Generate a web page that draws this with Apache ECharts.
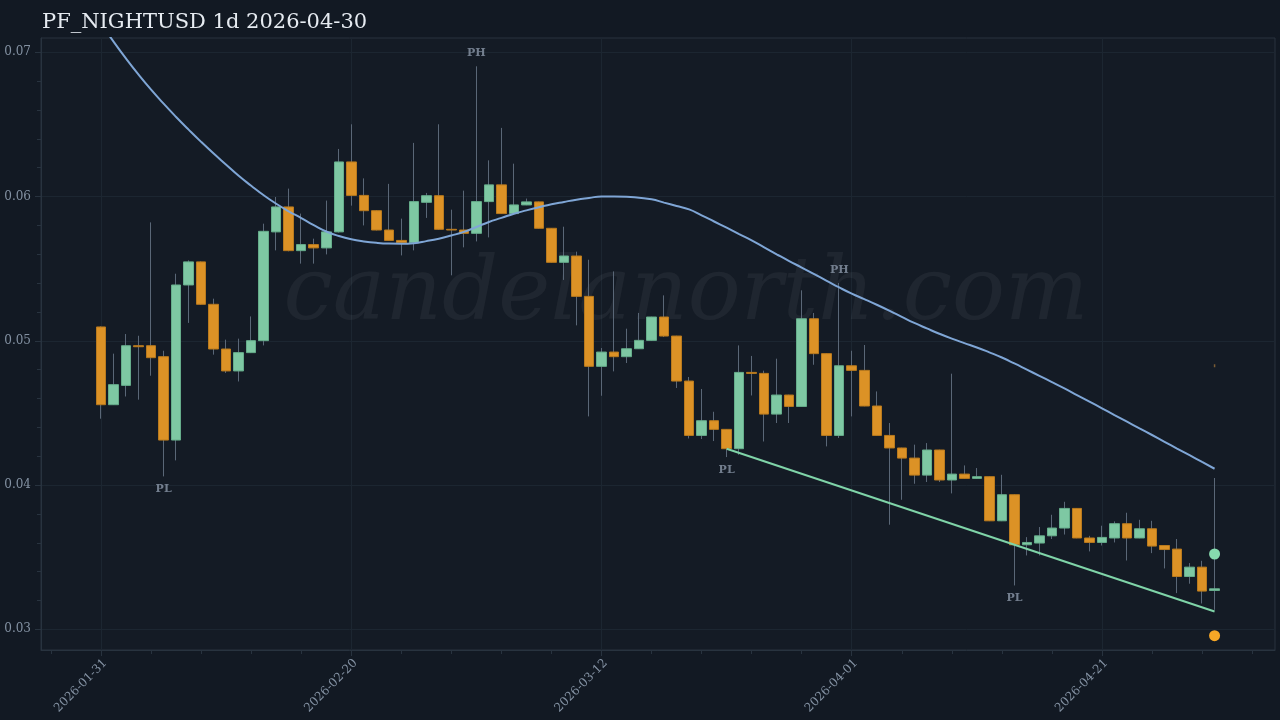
<!DOCTYPE html>
<html>
<head>
<meta charset="utf-8">
<script src="https://cdn.jsdelivr.net/npm/echarts@6/dist/echarts.min.js"></script>
<style>
html,body{margin:0;padding:0;background:#121923;}
#c{width:1280px;height:720px;}
</style>
</head>
<body>
<div id="c"></div>
<script>
// ---------------- data ----------------
const titleText = 'PF_NIGHTUSD 1d 2026-04-30';
const startDate = '2026-01-31';   // day 0
const open = [
0.05096,0.04557,0.04691,0.04966,0.04966,0.04890,0.04312,0.05387,0.05547,0.05253,
0.04943,0.04791,0.04918,0.05001,0.05755,0.05928,0.05625,0.05667,0.05644,0.05755,
0.06240,0.06008,0.05902,0.05768,0.05696,0.05680,0.05960,0.06006,0.05773,0.05768,
0.05745,0.05965,0.06081,0.05882,0.05942,0.05963,0.05780,0.05544,0.05588,0.05308,
0.04823,0.04922,0.04890,0.04945,0.05003,0.05165,0.05033,0.04721,0.04344,0.04446,
0.04386,0.04252,0.04781,0.04774,0.04492,0.04624,0.04545,0.05153,0.04911,0.04344,
0.04827,0.04795,0.04548,0.04344,0.04257,0.04187,0.04069,0.04243,0.04035,0.04076,
0.04046,0.04058,0.03752,0.03933,0.03586,0.03598,0.03648,0.03702,0.03838,0.03633,
0.03602,0.03633,0.03732,0.03633,0.03697,0.03581,0.03556,0.03366,0.03431,0.03269
];
const close = [
0.04557,0.04696,0.04966,0.04959,0.04883,0.04312,0.05387,0.05547,0.05253,0.04943,
0.04791,0.04918,0.05001,0.05759,0.05928,0.05625,0.05667,0.05644,0.05755,0.06240,
0.06008,0.05902,0.05768,0.05696,0.05680,0.05965,0.06006,0.05773,0.05768,0.05745,
0.05965,0.06081,0.05882,0.05942,0.05963,0.05780,0.05544,0.05588,0.05308,0.04823,
0.04922,0.04890,0.04945,0.05003,0.05165,0.05033,0.04721,0.04344,0.04446,0.04386,
0.04252,0.04781,0.04774,0.04492,0.04624,0.04545,0.05153,0.04911,0.04344,0.04827,
0.04795,0.04548,0.04344,0.04257,0.04187,0.04069,0.04243,0.04035,0.04076,0.04046,
0.04058,0.03752,0.03933,0.03586,0.03602,0.03648,0.03702,0.03838,0.03633,0.03602,
0.03637,0.03732,0.03633,0.03697,0.03577,0.03553,0.03366,0.03431,0.03265,0.03281
];
const low = [
0.04460,0.04555,0.04614,0.04592,0.04758,0.04060,0.04171,0.05124,0.05250,0.04904,
0.04777,0.04718,0.04915,0.04968,0.05627,0.05620,0.05535,0.05535,0.05599,0.05750,
0.05937,0.05800,0.05765,0.05694,0.05592,0.05627,0.05852,0.05770,0.05454,0.05648,
0.05689,0.05717,0.05880,0.05880,0.05940,0.05778,0.05542,0.05422,0.05107,0.04476,
0.04619,0.04788,0.04846,0.04943,0.05001,0.05026,0.04673,0.04323,0.04319,0.04305,
0.04194,0.04210,0.04621,0.04302,0.04430,0.04430,0.04543,0.04834,0.04268,0.04326,
0.04476,0.04546,0.04342,0.03725,0.03898,0.04009,0.04021,0.04021,0.03942,0.04044,
0.04044,0.03750,0.03750,0.03304,0.03512,0.03512,0.03626,0.03657,0.03631,0.03540,
0.03581,0.03602,0.03477,0.03631,0.03528,0.03422,0.03251,0.03316,0.03179,0.03135
];
const high = [
0.05100,0.04911,0.05047,0.05035,0.05821,0.04931,0.05465,0.05558,0.05550,0.05292,
0.05008,0.05015,0.05169,0.05812,0.05997,0.06055,0.05882,0.05708,0.05972,0.06330,
0.06501,0.06126,0.05905,0.06088,0.05847,0.06372,0.06025,0.06501,0.05909,0.06041,
0.06903,0.06251,0.06476,0.06228,0.05986,0.05965,0.05782,0.05791,0.05618,0.05562,
0.04950,0.05481,0.05084,0.05193,0.05167,0.05315,0.05035,0.04749,0.04666,0.04508,
0.04388,0.04968,0.04895,0.04793,0.04876,0.04626,0.05350,0.05193,0.04913,0.05401,
0.04931,0.04971,0.04649,0.04430,0.04259,0.04280,0.04291,0.04245,0.04772,0.04136,
0.04118,0.04060,0.04071,0.03935,0.03639,0.03709,0.03794,0.03884,0.03840,0.03648,
0.03718,0.03748,0.03808,0.03759,0.03752,0.03581,0.03626,0.03459,0.03475,0.04049
];
// smooth moving-average style curve (blue)
const maLine = [
0.07199,0.07074,0.06956,0.06845,0.06741,0.06644,0.06552,0.06464,0.06379,0.06298,
0.06221,0.06144,0.06075,0.06009,0.05950,0.05898,0.05851,0.05802,0.05758,0.05727,
0.05704,0.05689,0.05679,0.05674,0.05673,0.05677,0.05691,0.05708,0.05730,0.05755,
0.05789,0.05824,0.05852,0.05881,0.05904,0.05926,0.05947,0.05963,0.05978,0.05990,
0.06001,0.06001,0.05999,0.05991,0.05981,0.05958,0.05935,0.05911,0.05870,0.05827,
0.05784,0.05740,0.05696,0.05648,0.05600,0.05553,0.05508,0.05462,0.05416,0.05370,
0.05327,0.05289,0.05250,0.05209,0.05166,0.05124,0.05086,0.05049,0.05015,0.04984,
0.04954,0.04920,0.04884,0.04843,0.04800,0.04757,0.04714,0.04670,0.04624,0.04578,
0.04532,0.04485,0.04439,0.04393,0.04347,0.04300,0.04253,0.04207,0.04160,0.04113
];
// support trend line through pivot lows (day, price)
const trendDays = [50, 89];
const trendVals = [0.04252, 0.03123];
// pivot labels
const pivotDays  = [5, 30, 50, 59, 73];
const pivotTypes = ['PL', 'PH', 'PL', 'PH', 'PL'];
// end markers at last bar
const upperDot = 0.03522;
const lowerDot = 0.02956;
const tinyMark = 0.04827;
// axes
const xMin = -4.8, xMax = 93.83;
const yMin = 0.028565, yMax = 0.070992;
const xMajor = [0, 20, 40, 60, 80];
const xMinor = [-4,4,8,12,16,24,28,32,36,44,48,52,56,64,68,72,76,84,88,92];
const yMajor = [0.03, 0.04, 0.05, 0.06, 0.07];
const yMinor = [0.032,0.034,0.036,0.038,0.042,0.044,0.046,0.048,0.052,0.054,0.056,0.058,0.062,0.064,0.066,0.068];

// ---------------- build ----------------
const DAY = 86400000;
const t0 = Date.parse(startDate + 'T00:00:00Z');
function dayLabel(v) { return new Date(t0 + Math.round(v) * DAY).toISOString().slice(0, 10); }

const wickData = open.map((o, i) => [i, o, close[i], low[i], high[i]]);
const bodyData = open.map((o, i) => [i, o, close[i], Math.min(o, close[i]), Math.max(o, close[i])]);
const maData = maLine.map((v, i) => [i, v]);
const trendData = trendDays.map((d, i) => [d, trendVals[i]]);
const pivotData = pivotDays.map((d, i) => ({
  name: pivotTypes[i],
  value: [d, pivotTypes[i] === 'PH' ? high[d] : low[d]],
  label: { position: pivotTypes[i] === 'PH' ? 'top' : 'bottom' }
}));
const lastDay = open.length - 1;

const axisColor = '#28333f';
const gridColor = '#1c2631';
const labelColor = '#8391a2';
const serif = 'DejaVu Serif';

const chart = echarts.init(document.getElementById('c'), null, { renderer: 'canvas' });
chart.setOption({
  animation: false,
  backgroundColor: '#121923',
  title: {
    text: titleText, left: 42, top: 12, padding: 0,
    textStyle: { fontFamily: serif, fontSize: 21, fontWeight: 'normal', color: '#e6ebf1' }
  },
  grid: {
    left: 41, right: 5, top: 38, bottom: 70, show: true,
    backgroundColor: '#141b25', borderColor: axisColor, borderWidth: 1
  },
  graphic: [{
    type: 'text', z: 1, silent: true,
    style: {
      text: 'candelanorth.com', x: 686, y: 296,
      font: 'italic 88px "DejaVu Serif"', fill: 'rgba(255,255,255,0.05)',
      align: 'center', verticalAlign: 'middle'
    }
  }],
  xAxis: [{
    type: 'value', min: xMin, max: xMax,
    axisLine: { show: true, onZero: false, lineStyle: { color: axisColor } },
    axisTick: { show: true, length: 6, customValues: xMajor, lineStyle: { color: axisColor } },
    axisLabel: {
      customValues: xMajor, rotate: 45, margin: 7, formatter: dayLabel, verticalAlign: 'top',
      color: labelColor, fontFamily: serif, fontSize: 12
    },
    splitLine: { show: true, lineStyle: { color: gridColor, width: 1 } }
  }, {
    type: 'value', min: xMin, max: xMax, position: 'bottom',
    axisLine: { show: false, onZero: false },
    axisTick: { show: true, length: 4, customValues: xMinor, lineStyle: { color: axisColor } },
    axisLabel: { show: false }, splitLine: { show: false }
  }],
  yAxis: [{
    type: 'value', min: yMin, max: yMax, position: 'left',
    axisLine: { show: true, onZero: false, lineStyle: { color: axisColor } },
    axisTick: { show: true, length: 6, customValues: yMajor, lineStyle: { color: axisColor } },
    axisLabel: {
      customValues: yMajor, margin: 10, formatter: v => v.toFixed(2),
      color: labelColor, fontFamily: serif, fontSize: 12
    },
    splitLine: { show: true, lineStyle: { color: gridColor, width: 1 } }
  }, {
    type: 'value', min: yMin, max: yMax, position: 'left',
    axisLine: { show: false, onZero: false },
    axisTick: { show: true, length: 4, customValues: yMinor, lineStyle: { color: axisColor } },
    axisLabel: { show: false }, splitLine: { show: false }
  }],
  series: [{
    name: 'wick', type: 'candlestick', data: wickData, barWidth: 1,
    encode: { x: 0, y: [1, 2, 3, 4] },
    itemStyle: { color: '#5a6777', color0: '#5a6777', borderColor: '#5a6777', borderColor0: '#5a6777', borderWidth: 1 },
    emphasis: { disabled: true }, z: 2
  }, {
    name: 'body', type: 'candlestick', data: bodyData, barWidth: 10,
    encode: { x: 0, y: [1, 2, 3, 4] },
    itemStyle: { color: '#7ec8a3', color0: '#dc9226', borderColor: '#66ad8b', borderColor0: '#b97a1e', borderWidth: 1 },
    emphasis: { disabled: true }, z: 3
  }, {
    name: 'ma', type: 'line', data: maData, showSymbol: false, smooth: 0.5,
    lineStyle: { color: '#7fa6d6', width: 2 }, z: 4, silent: true
  }, {
    name: 'trend', type: 'line', data: trendData, showSymbol: false,
    lineStyle: { color: '#7fd4a8', width: 2 }, z: 4, silent: true
  }, {
    name: 'pivots', type: 'scatter', data: pivotData, symbolSize: 1,
    itemStyle: { color: 'rgba(0,0,0,0)' },
    label: { show: true, formatter: p => p.name, distance: 7, color: '#8b97a9', fontFamily: serif, fontSize: 11, fontWeight: 'bold' },
    z: 5, silent: true
  }, {
    name: 'dots', type: 'scatter', symbolSize: 11,
    data: [
      { value: [lastDay, upperDot], itemStyle: { color: '#86dbae', opacity: 1 } },
      { value: [lastDay, lowerDot], itemStyle: { color: '#f7a726', opacity: 1 } }
    ],
    itemStyle: { opacity: 1 },
    z: 6, silent: true
  }, {
    name: 'tiny', type: 'scatter', symbol: 'rect', symbolSize: [1.5, 3],
    data: [[lastDay, tinyMark]], itemStyle: { color: '#7a5c34', opacity: 1 }, z: 6, silent: true
  }]
});
</script>
</body>
</html>
